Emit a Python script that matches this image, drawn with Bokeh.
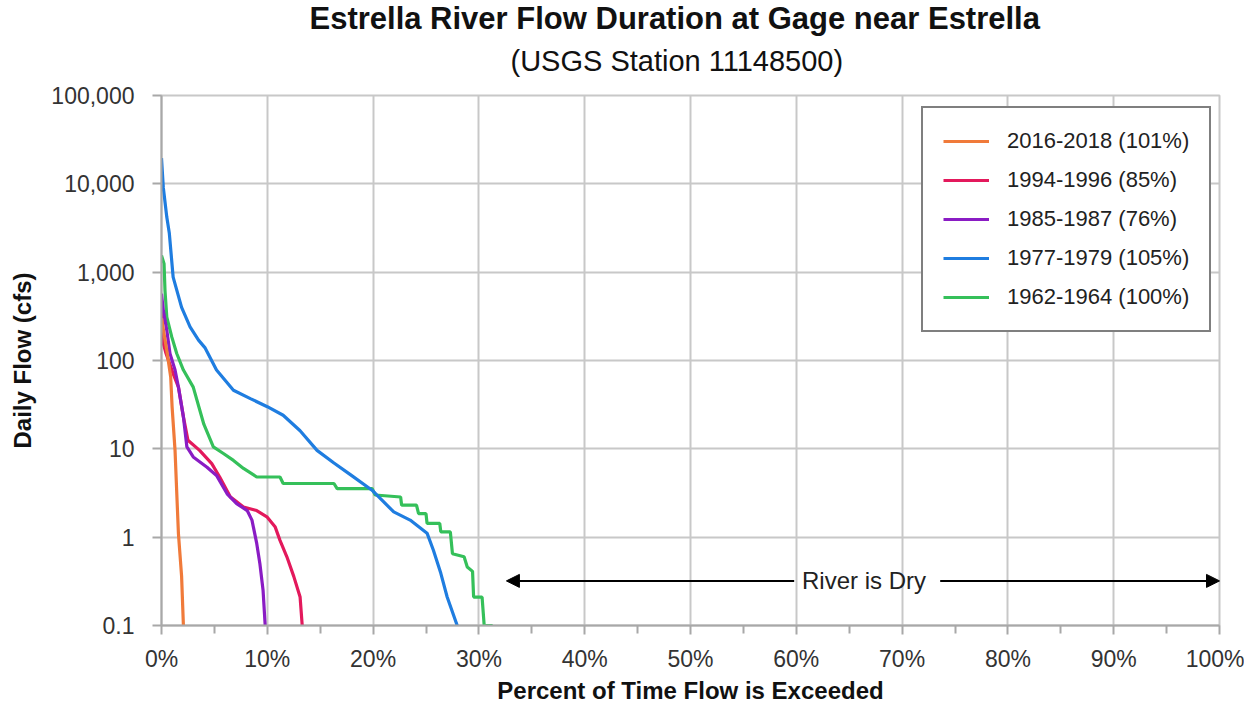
from bokeh.plotting import figure
from bokeh.models import (Range1d, FixedTicker, Legend, LegendItem, Title, Arrow,
                          NormalHead, Label)
from bokeh.embed import file_html
from bokeh.resources import INLINE

FONT = "Liberation Sans"

# ---- data (percent of time exceeded, daily flow cfs) ----
pct_2016 = [0, 0.5, 0.87, 1.0, 1.28, 1.45, 1.6, 1.9, 2.07]
flow_2016 = [300, 130, 65, 30, 9.6, 3, 1.1, 0.36, 0.1]

pct_1994 = [0, 0.17, 0.43, 1.1, 1.6, 2.07, 2.5, 3.6, 4.75, 5.5, 6.5, 7.75, 9.0, 9.96,
            10.75, 11.2, 11.85, 12.5, 13.1, 13.3]
flow_1994 = [420, 155, 120, 71, 50, 23, 12.5, 9.6, 6.8, 4.8, 2.86, 2.2, 2.0, 1.7,
             1.3, 0.92, 0.6, 0.36, 0.21, 0.1]

pct_1985 = [0, 0.17, 0.5, 0.8, 1.28, 1.6, 2.07, 2.4, 3.0, 4.3, 5.2, 6.2, 7.1, 8.1,
            8.55, 9.0, 9.3, 9.6, 9.8]
flow_1985 = [570, 370, 220, 120, 78, 50, 23, 10.5, 8.1, 6.2, 5.0, 3.1, 2.4, 2.0,
             1.56, 0.85, 0.5, 0.25, 0.1]

pct_1977 = [0, 0.17, 0.5, 0.74, 1.1, 1.9, 2.7, 3.5, 4.1, 5.2, 6.8, 8.4, 10.0, 11.5,
            13.1, 14.7, 16.3, 17.85, 19.9, 21.95, 23.5, 25.1, 25.7, 26.4, 27.0, 27.95]
flow_1977 = [19500, 9100, 4200, 2750, 880, 400, 240, 170, 140, 78, 46, 37, 30, 24,
             16, 9.6, 6.9, 5.1, 3.4, 1.93, 1.56, 1.11, 0.71, 0.39, 0.21, 0.1]

pct_1962 = [0, 0.24, 0.33, 0.5, 0.97, 1.44, 2.07, 3.0, 4.0, 4.9, 5.85, 6.8, 7.75, 9.0,
            11.2, 11.5, 16.3, 16.6, 19.9, 20.2, 22.6, 22.7, 24.1, 24.3, 25.0, 25.1,
            26.3, 26.4, 27.3, 27.5, 28.6, 28.9, 29.4, 29.5, 30.3, 30.5, 31.3]
flow_1962 = [1550, 1250, 620, 310, 185, 120, 78, 50, 19, 10.5, 8.85, 7.4, 6.0, 4.8,
             4.8, 4.05, 4.05, 3.55, 3.55, 3.0, 2.85, 2.3, 2.3, 1.85, 1.85, 1.43,
             1.43, 1.15, 1.15, 0.65, 0.6, 0.46, 0.41, 0.21, 0.21, 0.1, 0.1]

series_labels = ["2016-2018 (101%)", "1994-1996 (85%)", "1985-1987 (76%)",
                 "1977-1979 (105%)", "1962-1964 (100%)"]
series_colors = ["#F07A3A", "#E3195C", "#8A1CC4", "#1F7DE0", "#35C05A"]

x_ticks = [0, 10, 20, 30, 40, 50, 60, 70, 80, 90, 100]
x_minor = [5, 15, 25, 35, 45, 55, 65, 75, 85, 95]
x_tick_labels = ["0%", "10%", "20%", "30%", "40%", "50%", "60%", "70%", "80%", "90%", "100%"]
y_ticks = [0.1, 1, 10, 100, 1000, 10000, 100000]
y_tick_labels = ["0.1", "1", "10", "100", "1,000", "10,000", "100,000"]

# "River is Dry" annotation
dry_level = 0.32
dry_left = 32.6
dry_text_x = 66.4
dry_gap_left = 59.8
dry_gap_right = 73.6
dry_right = 100

p = figure(width=1244, height=706, output_backend="svg", toolbar_location=None,
           x_range=Range1d(0, 100), y_range=Range1d(0.1, 100000), y_axis_type="log",
           title=None, min_border_left=161, min_border_right=25, min_border_top=95,
           min_border_bottom=81)
p.background_fill_color = "white"
p.border_fill_color = "white"
p.outline_line_color = "#c8c8c8"
p.outline_line_width = 2

# titles
sub = Title(text="(USGS Station 11148500)", align="left", text_font=FONT,
            text_font_size="29px", text_font_style="normal", text_color="#111111",
            offset=349, standoff=37)
main = Title(text="Estrella River Flow Duration at Gage near Estrella", align="left",
             text_font=FONT, text_font_size="31px", text_font_style="bold",
             text_color="#111111", offset=148, standoff=-22, text_line_height=1.5)
p.add_layout(sub, "above")
p.add_layout(main, "above")

# axes
xt = FixedTicker(ticks=x_ticks, minor_ticks=x_minor)
p.xaxis.ticker = xt
p.xgrid.ticker = xt
p.xaxis.major_label_overrides = {t: l for t, l in zip(x_ticks, x_tick_labels)}
yt = FixedTicker(ticks=y_ticks)
p.yaxis.ticker = yt
p.ygrid.ticker = yt
p.yaxis.major_label_overrides = {t: l for t, l in zip(y_ticks, y_tick_labels)}

for ax in (p.xaxis[0], p.yaxis[0]):
    ax.axis_line_color = "#a8a8a8"
    ax.axis_line_width = 2
    ax.major_tick_line_color = "#a8a8a8"
    ax.major_tick_line_width = 2
    ax.major_tick_in = 0
    ax.major_tick_out = 9
    ax.major_label_text_font = FONT
    ax.major_label_text_font_size = "23px"
    ax.major_label_text_color = "#333333"
    ax.axis_label_text_font = FONT
    ax.axis_label_text_font_size = "24px"
    ax.axis_label_text_font_style = "bold"
    ax.axis_label_text_color = "#111111"
p.xaxis.minor_tick_line_color = "#a8a8a8"
p.xaxis.minor_tick_line_width = 2
p.xaxis.minor_tick_in = 0
p.xaxis.minor_tick_out = 8
p.yaxis.minor_tick_line_color = None
p.xaxis.major_label_standoff = 11
p.yaxis.major_label_standoff = 18
p.xaxis.axis_label = "Percent of Time Flow is Exceeded"
p.yaxis.axis_label = "Daily Flow (cfs)"
p.xaxis.axis_label_standoff = 2
p.yaxis.axis_label_standoff = 12

for g in (p.xgrid[0], p.ygrid[0]):
    g.grid_line_color = "#c8c8c8"
    g.grid_line_width = 2

# lines (draw order)
all_x = [pct_2016, pct_1994, pct_1985, pct_1977, pct_1962]
all_y = [flow_2016, flow_1994, flow_1985, flow_1977, flow_1962]
renderers = {}
for idx in [4, 3, 1, 2, 0]:
    renderers[idx] = p.line(all_x[idx], all_y[idx], line_color=series_colors[idx],
                            line_width=3.2)

legend = Legend(items=[LegendItem(label=series_labels[i], renderers=[renderers[i]])
                       for i in range(5)],
                location=(760, 293))
legend.label_text_font = FONT
legend.label_text_font_size = "22px"
legend.label_text_color = "#222222"
legend.border_line_color = "black"
legend.border_line_width = 2
legend.background_fill_color = "white"
legend.background_fill_alpha = 1
legend.padding = 20
legend.margin = 0
legend.spacing = 13
legend.glyph_width = 46
legend.glyph_height = 20
legend.label_height = 20
legend.label_standoff = 18
p.add_layout(legend, "center")

# River is Dry annotation
p.add_layout(Arrow(end=NormalHead(size=13, fill_color="black", line_color="black"),
                   x_start=dry_gap_left, y_start=dry_level, x_end=dry_left, y_end=dry_level,
                   line_color="black", line_width=2))
p.add_layout(Arrow(end=NormalHead(size=13, fill_color="black", line_color="black"),
                   x_start=dry_gap_right, y_start=dry_level, x_end=dry_right, y_end=dry_level,
                   line_color="black", line_width=2))
p.add_layout(Label(x=dry_text_x, y=dry_level, text="River is Dry", text_align="center",
                   text_baseline="middle", text_font=FONT, text_font_size="24px",
                   text_color="#222222"))

open("out.html", "w").write(file_html(p, INLINE))
